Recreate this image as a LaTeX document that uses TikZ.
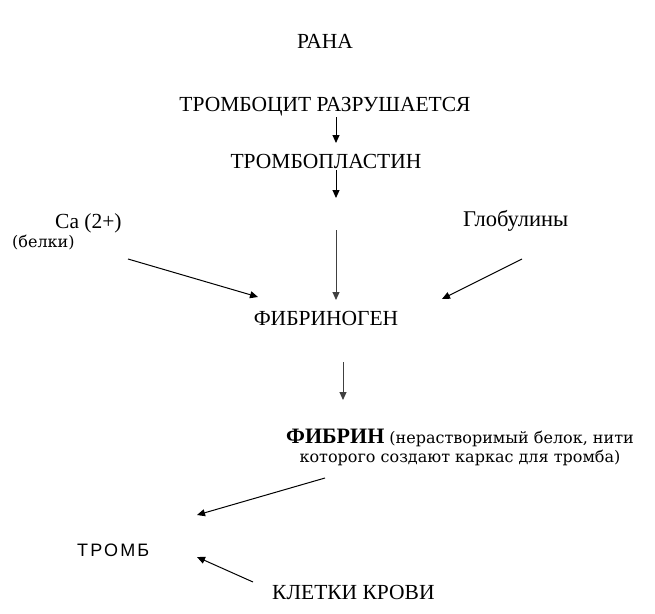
\documentclass[tikz,border=0pt]{standalone}
\usepackage{fontspec}
\setmainfont{Liberation Serif}
\newfontfamily\dvs{DejaVu Serif}
\newfontfamily\lsans[LetterSpace=12]{Liberation Sans}
\usetikzlibrary{arrows.meta}
\begin{document}
\begin{tikzpicture}[x=1pt,y=-1pt,
  lbl/.style={inner sep=0pt,font=\fontsize{21.5}{24}\selectfont},
  small/.style={inner sep=0pt,font=\dvs\fontsize{16}{18.5}\selectfont},
  arr/.style={line width=1pt,-{Triangle[length=8pt,width=7pt]}},
  varr/.style={arr,draw=black!75}]
\useasboundingbox (0,0) rectangle (655,613);
\fill[white] (0,0) rectangle (655,613);

\node[lbl,anchor=base] (rana) at (325,48) {РАНА};
\node[lbl,anchor=base] (trc) at (325,111) {ТРОМБОЦИТ РАЗРУШАЕТСЯ};
\node[lbl,anchor=base] (trp) at (326,168) {ТРОМБОПЛАСТИН};
\node[lbl,anchor=base west] (ca) at (55,228) {Ca (2+)};
\node[small,anchor=base west] (belki) at (12,247) {(белки)};
\node[lbl,anchor=base west,font=\fontsize{22.5}{24}\selectfont] (glob) at (463,226) {Глобулины};
\node[lbl,anchor=base] (fgn) at (326,325) {ФИБРИНОГЕН};
\node[small,align=center,anchor=north] (fib) at (460,429)
  {{\rmfamily\bfseries\fontsize{22}{24}\selectfont ФИБРИН} (нерастворимый белок, нити\\которого создают каркас для тромба)};
\node[inner sep=0pt,anchor=base west,font=\lsans\fontsize{18}{20}\selectfont] (thr) at (77,556) {ТРОМБ};
\node[lbl,anchor=base west] (cells) at (272,599) {КЛЕТКИ КРОВИ};

\coordinate (a1s) at (336,117); \coordinate (a1e) at (336,143);
\coordinate (a2s) at (336,170); \coordinate (a2e) at (336,198);
\coordinate (a3s) at (128,259); \coordinate (a3e) at (258,297);
\coordinate (a4s) at (336,230); \coordinate (a4e) at (336,300);
\coordinate (a5s) at (522,259); \coordinate (a5e) at (442,299);
\coordinate (a6s) at (343,362); \coordinate (a6e) at (343,400);
\coordinate (a7s) at (325,478); \coordinate (a7e) at (197,515);
\coordinate (a8s) at (253,582); \coordinate (a8e) at (197,557);

\draw[arr] (a1s) -- (a1e);
\draw[arr] (a2s) -- (a2e);
\draw[arr] (a3s) -- (a3e);
\draw[varr] (a4s) -- (a4e);
\draw[arr] (a5s) -- (a5e);
\draw[varr] (a6s) -- (a6e);
\draw[arr] (a7s) -- (a7e);
\draw[arr] (a8s) -- (a8e);
\end{tikzpicture}
\end{document}
